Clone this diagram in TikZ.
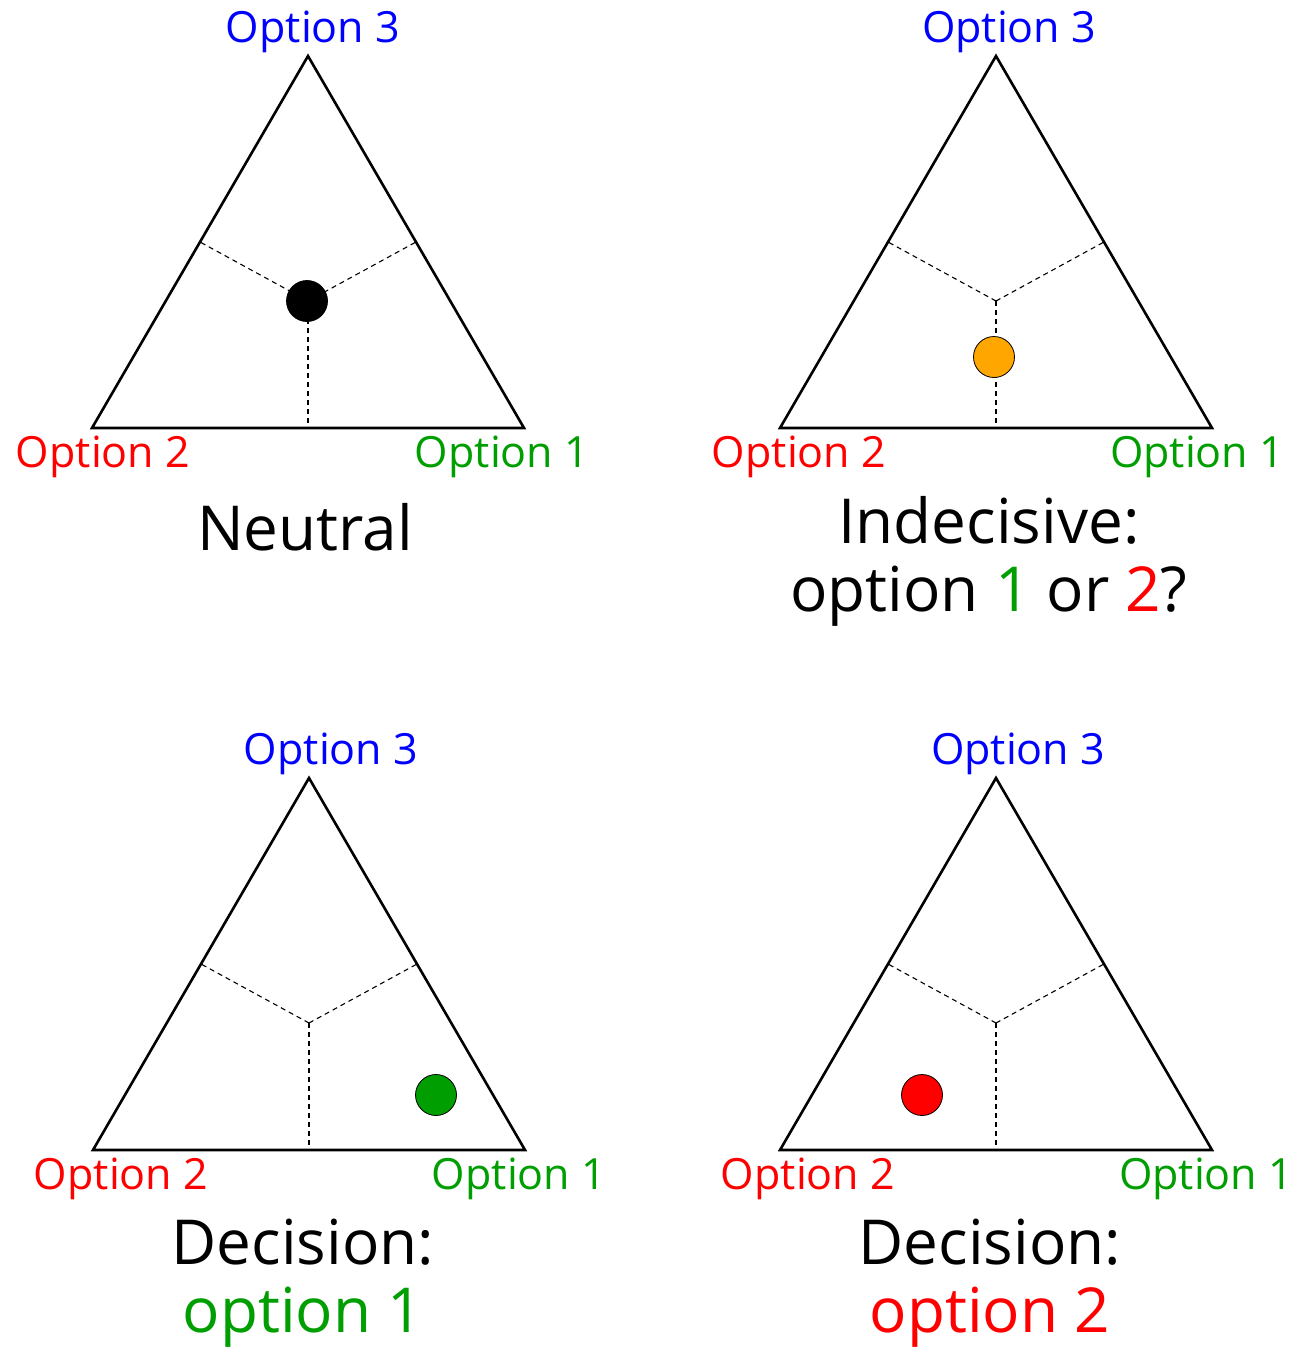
\documentclass[tikz,border=0pt]{standalone}
\usepackage{fontspec}
\setmainfont{Open Sans}
\definecolor{optred}{rgb}{1,0,0}
\definecolor{optgreen}{rgb}{0,0.62,0}
\definecolor{optblue}{rgb}{0,0,1}
\definecolor{optorange}{rgb}{1,0.65,0}
\tikzset{
  tri/.style={line width=2.6pt, line join=miter},
  sep/.style={dashed, line width=1.1pt, dash pattern=on 5pt off 4pt},
  lbl/.style={font=\fontsize{43}{50}\selectfont, inner sep=0pt},
  title/.style={font=\fontsize{62}{68}\selectfont, inner sep=0pt, align=center},
  dot/.style={circle, draw=black, line width=0.8pt, minimum size=41pt, inner sep=0pt}
}
% one triangle: name, apex x, apex y
\newcommand{\ternary}[3]{%
  \coordinate (#1top) at (#2,#3);
  \coordinate (#1left) at (#2-216,#3+372);
  \coordinate (#1right) at (#2+216,#3+372);
  \coordinate (#1mid) at (#2,#3+245);
  \draw[tri] (#1top) -- (#1left) -- (#1right) -- cycle;
  \draw[sep] (#1mid) -- ($(#1top)!0.5!(#1left)$);
  \draw[sep] (#1mid) -- ($(#1top)!0.5!(#1right)$);
  \draw[sep] (#1mid) -- ($(#1left)!0.5!(#1right)$);
}
\usetikzlibrary{calc}
\begin{document}
\begin{tikzpicture}[x=1pt,y=-1pt]
\useasboundingbox (0,0) rectangle (1306,1366);

% neutral
\ternary{a}{308}{56}
\node[dot, fill=black] (adot) at (307,301) {};
\node[lbl, text=optblue] (a3) at (313,32) {Option 3};
\node[lbl, text=optred] (a2) at (103,457) {Option 2};
\node[lbl, text=optgreen] (a1) at (502,457) {Option 1};
\node[title] (atitle) at (305,527) {Neutral};

% indecisive
\ternary{b}{996}{56}
\node[dot, fill=optorange] (bdot) at (994,357) {};
\node[lbl, text=optblue] (b3) at (1009,32) {Option 3};
\node[lbl, text=optred] (b2) at (799,457) {Option 2};
\node[lbl, text=optgreen] (b1) at (1197,457) {Option 1};
\node[title] (btitle) at (989,561) {Indecisive:\\option \textcolor{optgreen}{1} or \textcolor{optred}{2}?};

% decision 1
\ternary{c}{309}{778}
\node[dot, fill=optgreen] (cdot) at (436,1095) {};
\node[lbl, text=optblue] (c3) at (331,754) {Option 3};
\node[lbl, text=optred] (c2) at (121,1179) {Option 2};
\node[lbl, text=optgreen] (c1) at (519,1179) {Option 1};
\node[title] (ctitle) at (303,1283) {Decision:\\\textcolor{optgreen}{option 1}};

% decision 2
\ternary{d}{996}{778}
\node[dot, fill=optred] (ddot) at (922,1095) {};
\node[lbl, text=optblue] (d3) at (1018,754) {Option 3};
\node[lbl, text=optred] (d2) at (808,1179) {Option 2};
\node[lbl, text=optgreen] (d1) at (1206,1179) {Option 1};
\node[title] (dtitle) at (990,1283) {Decision:\\\textcolor{optred}{option 2}};
\end{tikzpicture}
\end{document}
